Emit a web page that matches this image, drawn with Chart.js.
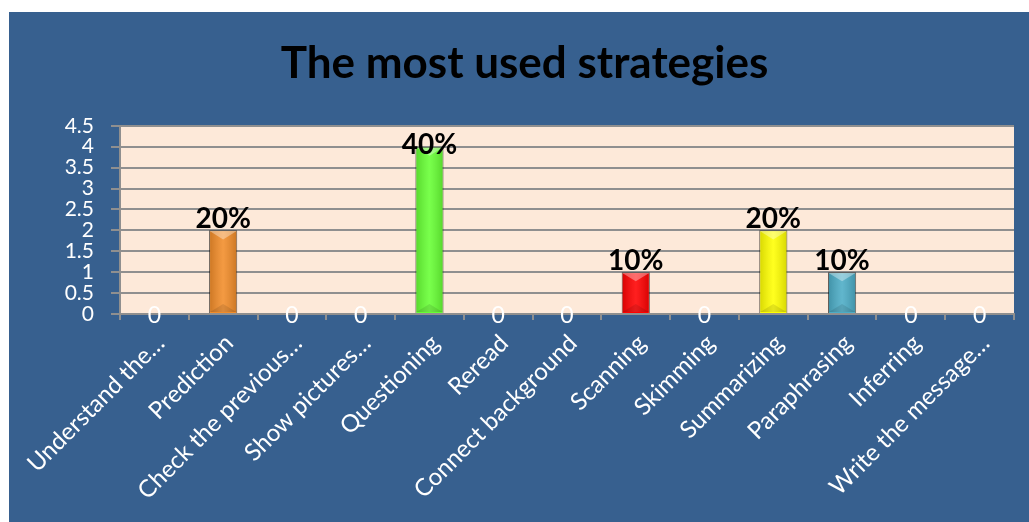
<!DOCTYPE html>
<html>
<head>
<meta charset="utf-8">
<title>The most used strategies</title>
<script src="https://cdn.jsdelivr.net/npm/chart.js@4.4.1/dist/chart.umd.min.js"></script>
<style>
  html, body { margin: 0; padding: 0; background: #ffffff; }
  #wrap {
    position: absolute; left: 9px; top: 12px;
    width: 1020px; height: 510px;
    background: #37608f;
  }
</style>
</head>
<body>
<div id="wrap"><canvas id="myChart"></canvas></div>
<script>
// strategies and how many students named each one
var categories = ['Understand the\u2026', 'Prediction', 'Check the previous\u2026', 'Show pictures\u2026',
  'Questioning', 'Reread', 'Connect background', 'Scanning', 'Skimming', 'Summarizing',
  'Paraphrasing', 'Inferring', 'Write the message\u2026'];
var counts = [0, 2, 0, 0, 4, 0, 0, 1, 0, 2, 1, 0, 0];
var barColors = ['#4f81bd', '#f28c28', '#c0504d', '#9bbb59', '#66ff33', '#8064a2', '#4bacc6',
  '#ff0000', '#f79646', '#ffff00', '#4bacc6', '#2c4d75', '#772c2a'];
var yMax = 4.5;
var yStep = 0.5;

var total = counts.reduce(function (a, b) { return a + b; }, 0);

// peach plot background
var plotBg = {
  id: 'plotBg',
  beforeDraw: function (chart) {
    var a = chart.chartArea, c = chart.ctx;
    c.save();
    c.fillStyle = '#fde9d9';
    c.fillRect(a.left, a.top, a.right - a.left, a.bottom - a.top);
    c.restore();
  }
};

// bevelled look on the bars + value labels
var barDecor = {
  id: 'barDecor',
  afterDatasetsDraw: function (chart) {
    var c = chart.ctx, area = chart.chartArea;
    var meta = chart.getDatasetMeta(0);
    meta.data.forEach(function (bar, i) {
      var v = counts[i];
      var w = bar.width, l = bar.x - w / 2, r = bar.x + w / 2;
      if (v > 0) {
        c.save();
        var g = c.createLinearGradient(l, 0, r, 0);
        g.addColorStop(0, 'rgba(0,0,0,0.16)');
        g.addColorStop(0.5, 'rgba(255,255,255,0.12)');
        g.addColorStop(1, 'rgba(0,0,0,0.16)');
        c.fillStyle = g;
        c.fillRect(l + 1, bar.y + 1, w - 2, bar.base - bar.y - 2);
        var d = w * 0.32;
        c.fillStyle = 'rgba(255,255,255,0.35)';
        c.beginPath();
        c.moveTo(l + 1, bar.y + 1); c.lineTo(r - 1, bar.y + 1); c.lineTo(bar.x, bar.y + d);
        c.closePath(); c.fill();
        c.fillStyle = 'rgba(0,0,0,0.10)';
        c.beginPath();
        c.moveTo(l + 1, bar.base - 1); c.lineTo(r - 1, bar.base - 1); c.lineTo(bar.x, bar.base - d);
        c.closePath(); c.fill();
        c.restore();
      }
      c.save();
      c.textAlign = 'center';
      if (v === 0) {
        c.font = '23px Lato';
        c.fillStyle = '#ffffff';
        c.textBaseline = 'middle';
        c.fillText('0', bar.x, bar.base + 2);
      } else {
        c.font = 'bold 28px Lato';
        c.fillStyle = '#000000';
        c.textBaseline = 'alphabetic';
        var yb = Math.max(bar.y - 2, area.top + 28);
        c.fillText(Math.round(v / total * 100) + '%', bar.x, yb);
      }
      c.restore();
    });
  }
};

var ctx = document.getElementById('myChart').getContext('2d');
var myChart = new Chart(ctx, {
  type: 'bar',
  data: {
    labels: categories,
    datasets: [{
      data: counts,
      backgroundColor: barColors,
      borderColor: 'rgba(0,0,0,0.6)',
      borderWidth: 1,
      categoryPercentage: 1,
      barPercentage: 0.41
    }]
  },
  options: {
    responsive: true,
    maintainAspectRatio: false,
    animation: false,
    layout: { padding: { left: 26, right: 15, top: 0, bottom: 0 } },
    plugins: {
      legend: { display: false },
      tooltip: { enabled: false },
      title: {
        display: true,
        text: 'The most used strategies',
        color: '#000000',
        font: { family: 'Lato', size: 44, weight: 'bold' },
        padding: { top: 25, bottom: 36 }
      }
    },
    scales: {
      x: {
        grid: { drawOnChartArea: false, color: '#8f8f8f', lineWidth: 2, tickLength: 6 },
        border: { color: '#8f8f8f', width: 2 },
        ticks: {
          color: '#ffffff',
          font: { family: 'Lato', size: 24 },
          autoSkip: false,
          minRotation: 45,
          maxRotation: 45,
          padding: 9,
          labelOffset: 6
        },
        afterFit: function (s) { s.height = 208; }
      },
      y: {
        min: 0,
        max: yMax,
        grid: { color: '#8f8f8f', lineWidth: 2, tickLength: 9 },
        border: { color: '#8f8f8f', width: 2 },
        ticks: {
          stepSize: yStep,
          autoSkip: false,
          color: '#ffffff',
          font: { family: 'Lato', size: 21 },
          padding: 17,
          callback: function (v) { return String(v); }
        },
        afterFit: function (s) { s.width = 85; }
      }
    }
  },
  plugins: [plotBg, barDecor]
});
</script>
</body>
</html>
